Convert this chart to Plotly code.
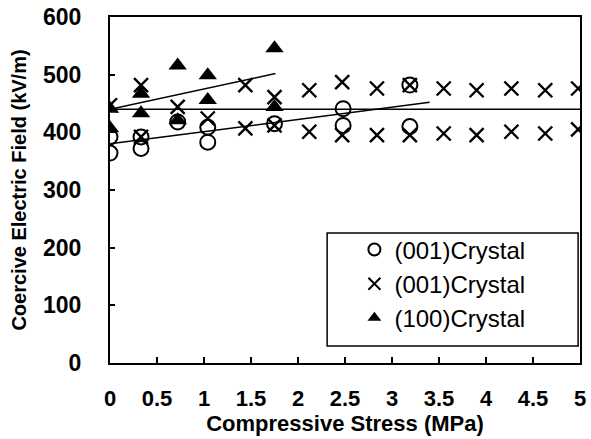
import plotly.graph_objects as go

# (001) crystal - open circles
circ_x = [0, 0, 0.33, 0.33, 0.72, 1.04, 1.04, 1.75, 2.48, 2.48, 3.19, 3.19]
circ_y = [364, 392, 392, 372, 418, 409, 383, 415, 441, 412, 482, 410]

# (001) crystal - crosses
cross_x = [0, 0.33, 0.33, 0.72, 1.04, 1.44, 1.44, 1.75, 1.75, 2.12, 2.12, 2.47, 2.47,
           2.84, 2.84, 3.19, 3.19, 3.55, 3.55, 3.9, 3.9, 4.27, 4.27, 4.63, 4.63, 4.98, 4.98]
cross_y = [447, 482, 392, 444, 424, 482, 407, 461, 412, 473, 401, 487, 395,
           476, 395, 482, 395, 476, 398, 473, 395, 476, 401, 473, 398, 476, 405]

# (100) crystal - filled triangles
tri_x = [0, 0, 0.33, 0.33, 0.72, 0.72, 1.04, 1.04, 1.75, 1.75]
tri_y = [441, 407, 467, 433, 516, 421, 499, 456, 546, 444]

# fitted lines
fit_hor_x = [0, 5]
fit_hor_y = [440, 440]
fit_low_x = [0, 3.4]
fit_low_y = [380, 452]
fit_up_x = [0, 1.76]
fit_up_y = [440, 502]

x_ticks = [0, 0.5, 1, 1.5, 2, 2.5, 3, 3.5, 4, 4.5, 5]
x_ticklabels = ["0", "0.5", "1", "1.5", "2", "2.5", "3", "3.5", "4", "4.5", "5"]
y_ticks = [0, 100, 200, 300, 400, 500, 600]

fig = go.Figure()
for lx, ly in [(fit_hor_x, fit_hor_y), (fit_low_x, fit_low_y), (fit_up_x, fit_up_y)]:
    fig.add_trace(go.Scatter(x=lx, y=ly, mode="lines", line=dict(color="black", width=1.5),
                             showlegend=False, hoverinfo="skip"))

fig.add_trace(go.Scatter(x=circ_x, y=circ_y, mode="markers", name="(001)Crystal",
                         legendgroup="a",
                         marker=dict(symbol="circle-open", size=15, color="black",
                                     line=dict(width=2, color="black"))))
fig.add_trace(go.Scatter(x=cross_x, y=cross_y, mode="markers", name="(001)Crystal",
                         legendgroup="b",
                         marker=dict(symbol="x-thin-open", size=14, color="black",
                                     line=dict(width=2.4, color="black"))))
fig.add_trace(go.Scatter(x=tri_x, y=tri_y, mode="markers", name="(100)Crystal",
                         legendgroup="c",
                         marker=dict(symbol="triangle-up", size=16, color="black")))

font_main = "Liberation Sans, Arial, sans-serif"

# legend frame
fig.add_shape(type="rect", xref="paper", yref="paper",
              x0=0.462, x1=0.996, y0=0.049, y1=0.376,
              line=dict(color="black", width=1.5), fillcolor="white", layer="below")

fig.update_layout(
    width=591, height=439,
    margin=dict(l=110, r=11, t=17, b=76),
    paper_bgcolor="white", plot_bgcolor="white",
    font=dict(family=font_main, color="black"),
    showlegend=True,
    legend=dict(x=0.52, y=0.392, xanchor="left", yanchor="top",
                borderwidth=0, bgcolor="rgba(0,0,0,0)",
                font=dict(size=24, family=font_main), tracegroupgap=0,
                itemsizing="constant", itemwidth=30),
    xaxis=dict(range=[0, 5], tickvals=x_ticks, ticktext=x_ticklabels,
               ticks="inside", ticklen=6, tickwidth=1.5, tickcolor="black",
               showline=True, linecolor="black", linewidth=2, mirror=True,
               showgrid=False, zeroline=False, ticklabelstandoff=15, automargin=False,
               ticklabeloverflow="allow",
               tickfont=dict(size=22, family=font_main, weight="bold"),
               title=dict(text="Compressive Stress (MPa)", standoff=2,
                          font=dict(size=22, family=font_main, weight="bold"))),
    yaxis=dict(range=[0, 600], tickvals=y_ticks,
               ticks="inside", ticklen=5, tickwidth=1.5, tickcolor="black",
               showline=True, linecolor="black", linewidth=2, mirror=True,
               showgrid=False, zeroline=False, ticklabelstandoff=22, automargin=False,
               ticklabeloverflow="allow",
               tickfont=dict(size=23, family=font_main, weight="bold"),
               title=dict(text="Coercive Electric Field (kV/m)", standoff=11,
                          font=dict(size=20, family=font_main, weight="bold"))),
)
fig.write_html("out.html", config={"displayModeBar": False},
               post_script="document.body.style.margin='0';document.body.style.overflow='hidden';")
